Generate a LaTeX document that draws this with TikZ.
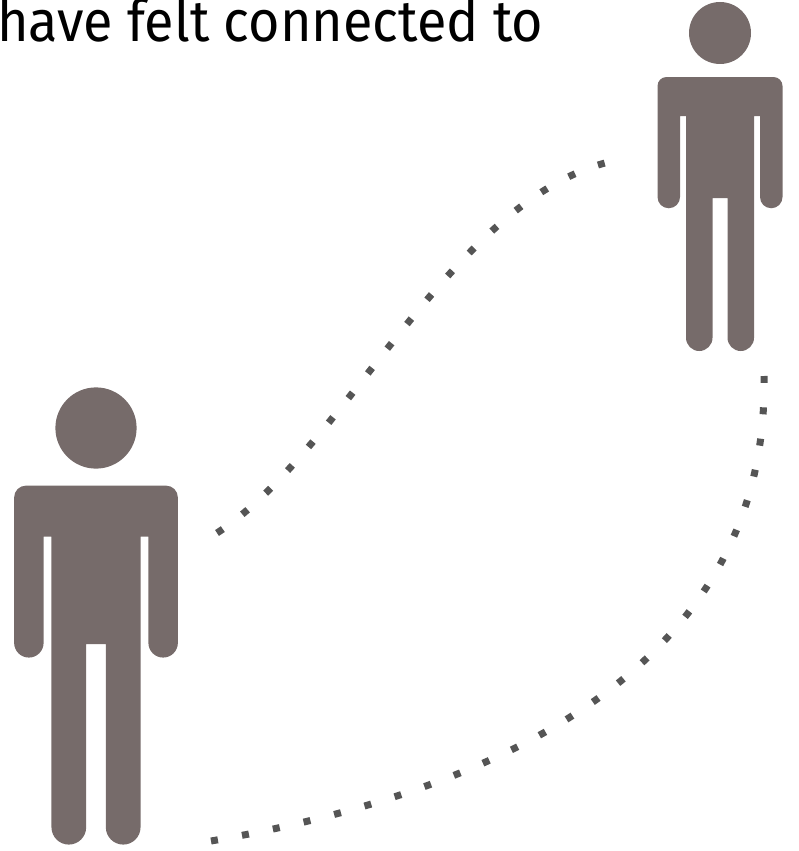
\documentclass[tikz,border=0pt]{standalone}
\usepackage{fontspec}
\setmainfont{Fira Sans}[FakeStretch=0.93]
\definecolor{figbrown}{RGB}{118,107,106}
\definecolor{dotgray}{RGB}{85,85,85}
\usetikzlibrary{arrows.meta,positioning}
\tikzset{
  linkdots/.style={draw=dotgray,line width=7pt,dash pattern=on 7pt off 24.5pt},
  pics/person/.style={code={
    \fill[figbrown] (0,0) circle (31);
    \fill[figbrown] (-53.5,-44) arc (90:180:9) -- (-62.5,-164)
      arc (180:360:11.25) -- (-40,-83) -- (-34,-83) -- (-34,-304.75)
      arc (180:360:13.25) -- (-7.5,-165) -- (7.5,-165) -- (7.5,-304.75)
      arc (180:360:13.25) -- (34,-83) -- (40,-83) -- (40,-164)
      arc (180:360:11.25) -- (62.5,-53) arc (0:90:9) -- cycle;
  }}
}
\begin{document}
\begin{tikzpicture}[x=1pt,y=1pt]
  \useasboundingbox (0,0) rectangle (798,-851);
  %% caption
  \node[anchor=base west,inner sep=0pt,font=\fontsize{58}{64}\selectfont] (caption)
        at (-3,-42) {have felt connected to};
  %% people
  \pic (near) at (96,-428) [scale=1.31] {person};
  \pic (far) at (720,-33) {person};
  %% ends of the links
  \coordinate (nearhand) at (217,-533);
  \coordinate (farhand) at (605,-163);
  \coordinate (nearfoot) at (211,-841);
  \coordinate (farfoot) at (764,-376);
  %% links
  \draw[linkdots] (nearhand) .. controls (343,-451) and (449,-205) .. (farhand);
  \draw[linkdots] (nearfoot) .. controls (431,-803) and (770,-700) .. (farfoot);
\end{tikzpicture}
\end{document}
